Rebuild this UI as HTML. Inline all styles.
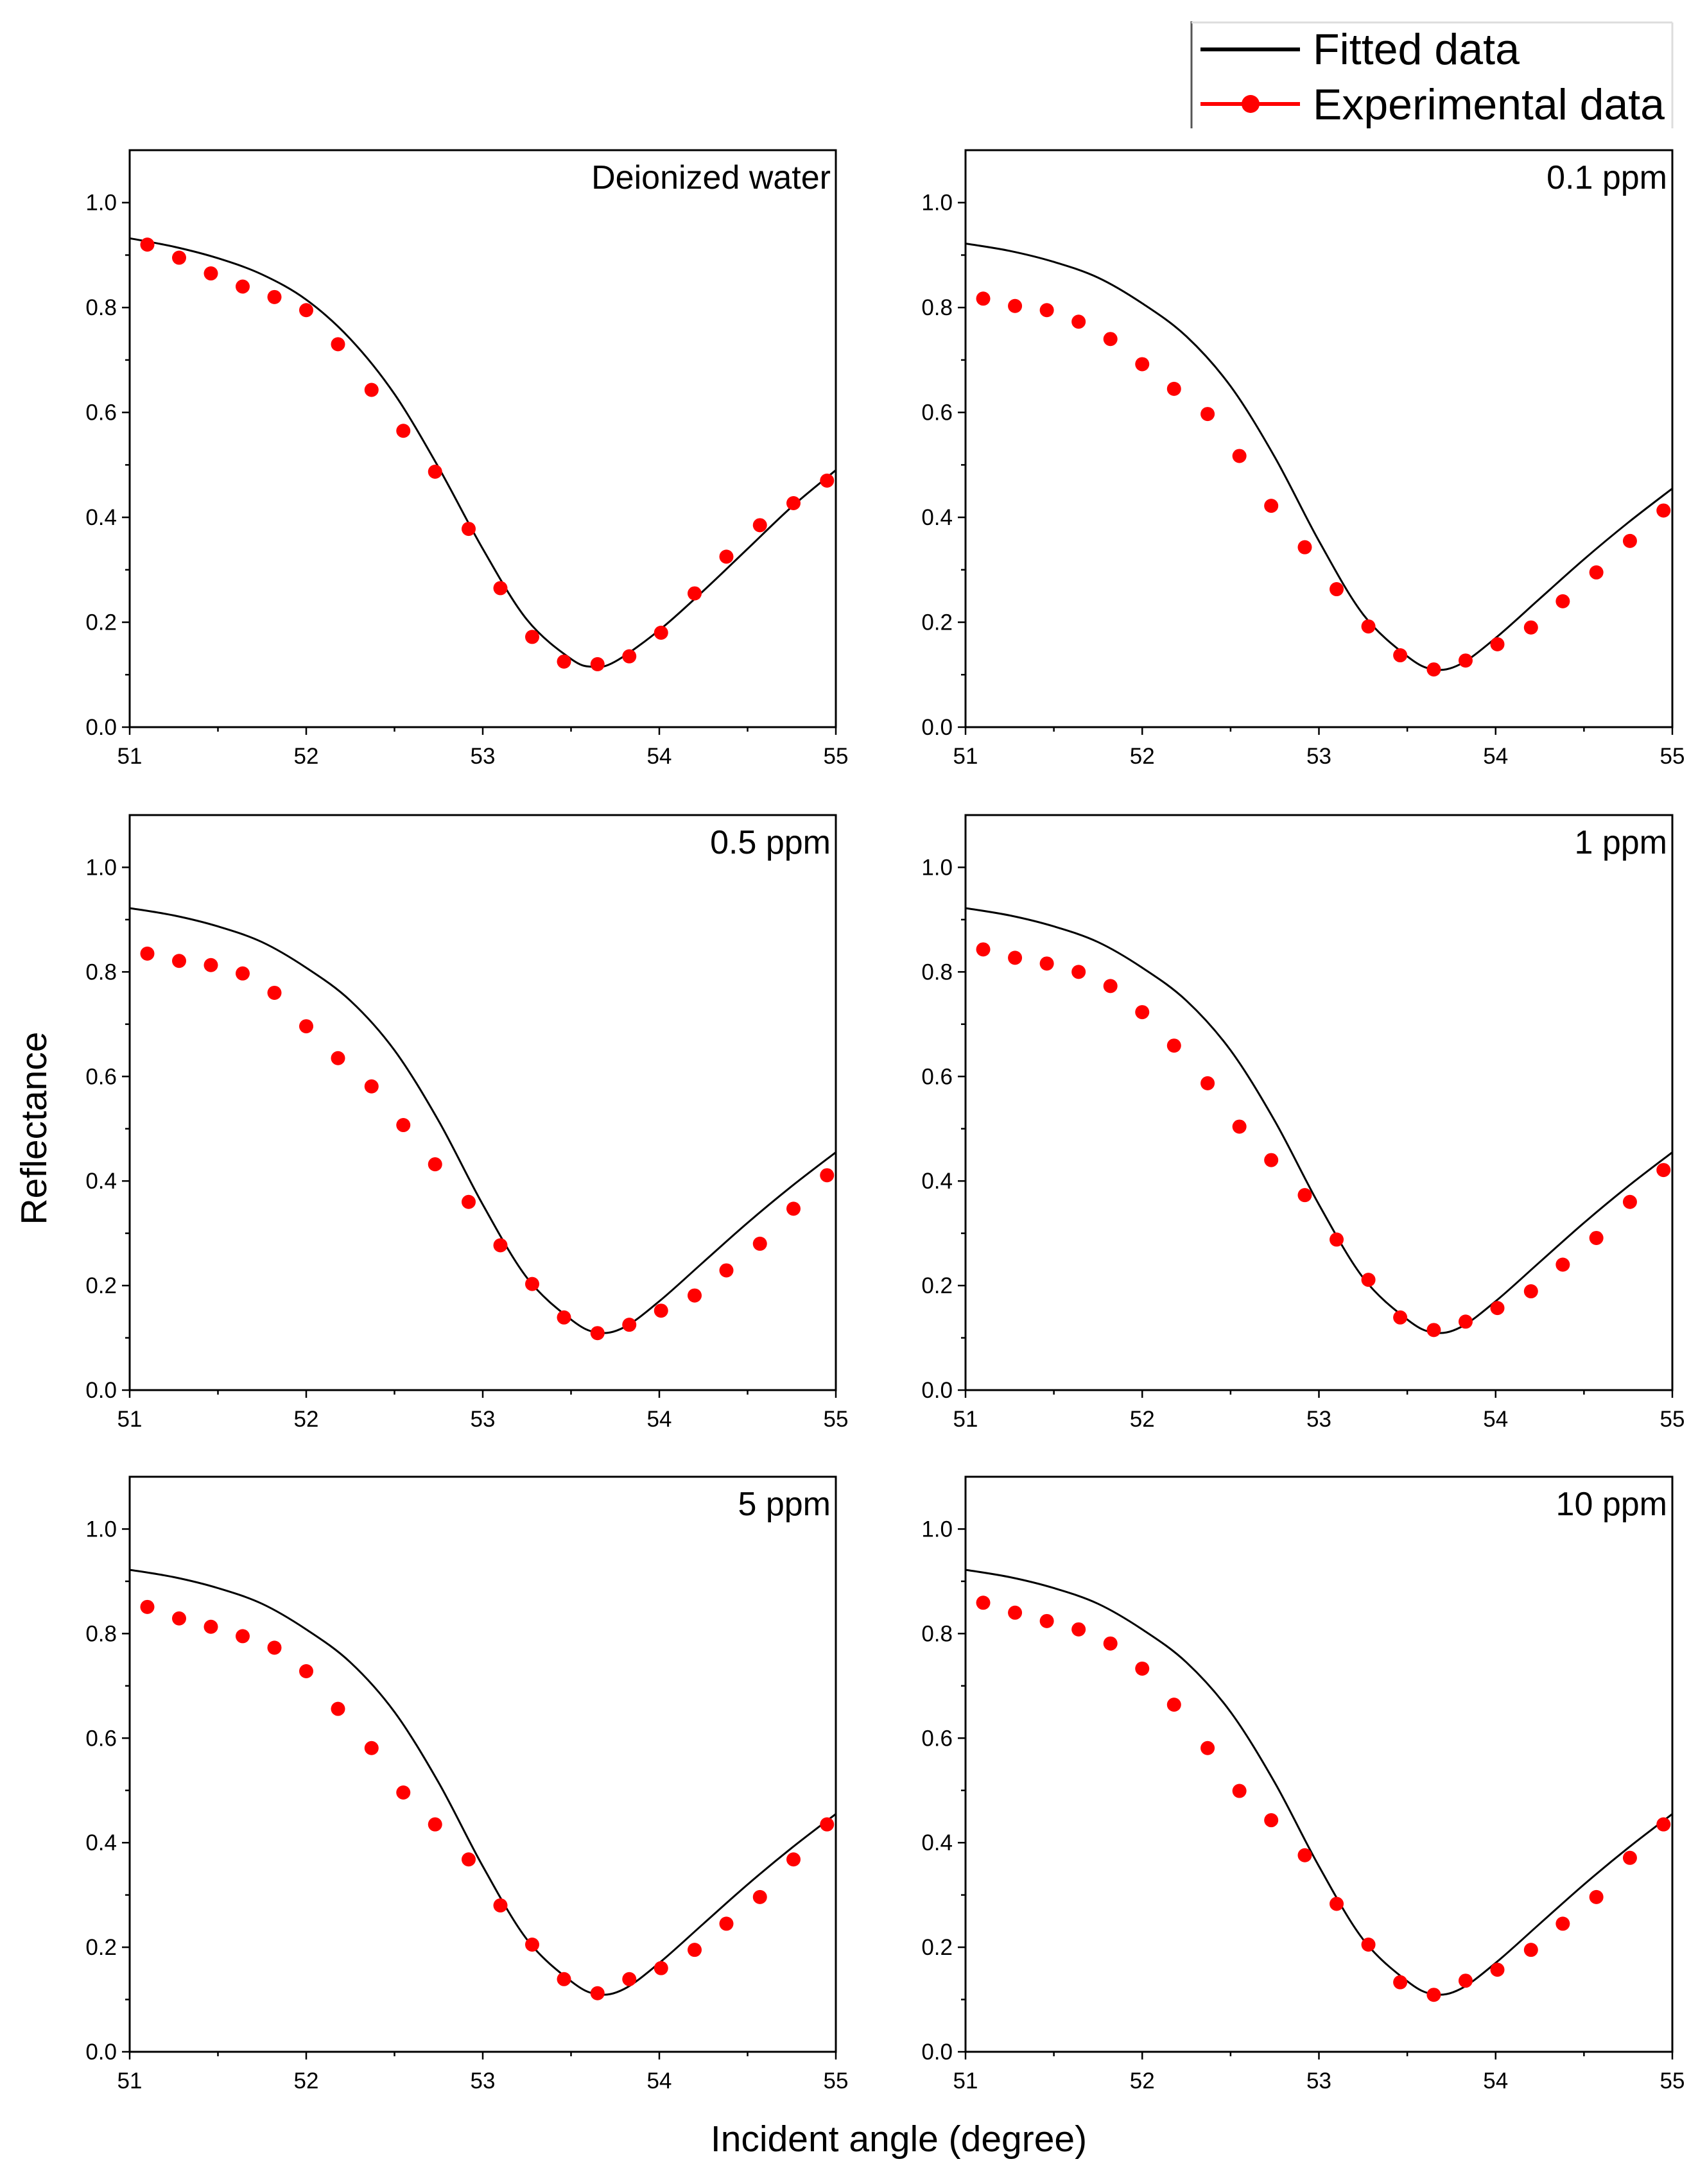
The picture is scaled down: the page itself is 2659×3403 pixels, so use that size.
<!DOCTYPE html>
<html><head><meta charset="utf-8"><style>
html,body{margin:0;padding:0;background:#fff}
svg{display:block;font-family:"Liberation Sans",Arial,sans-serif}
</style></head><body>
<svg id="chart" width="2659" height="3403" viewBox="0 0 2659 3403" xmlns="http://www.w3.org/2000/svg">
<g>
<line x1="1856" y1="33" x2="1856" y2="200" stroke="#555" stroke-width="3"/>
<line x1="1856" y1="35" x2="2605" y2="35" stroke="#ddd" stroke-width="3"/>
<line x1="2605" y1="35" x2="2605" y2="200" stroke="#ddd" stroke-width="3"/>
<line x1="1870" y1="77" x2="2025" y2="77" stroke="#000" stroke-width="6"/>
<text x="2045" y="100" font-size="68" textLength="322" lengthAdjust="spacingAndGlyphs">Fitted data</text>
<line x1="1870" y1="162" x2="2025" y2="162" stroke="#f00" stroke-width="6"/>
<circle cx="1948" cy="162" r="14" fill="#f00"/>
<text x="2045" y="186" font-size="68" textLength="548" lengthAdjust="spacingAndGlyphs">Experimental data</text>
</g>
<text transform="translate(72,1758) rotate(-90)" text-anchor="middle" font-size="57">Reflectance</text>
<text x="1400" y="3352" text-anchor="middle" font-size="57">Incident angle (degree)</text>
</svg>
<script>
const panelLabels = ["Deionized water","0.1 ppm","0.5 ppm","1 ppm","5 ppm","10 ppm"];
const expX = [51.1,51.28,51.46,51.64,51.82,52.0,52.18,52.37,52.55,52.73,52.92,53.1,53.28,53.46,53.65,53.83,54.01,54.2,54.38,54.57,54.76,54.95];
const exp0 = [0.92,0.895,0.865,0.84,0.82,0.795,0.73,0.643,0.565,0.487,0.378,0.265,0.172,0.125,0.12,0.135,0.18,0.255,0.325,0.385,0.427,0.47];
const exp1 = [0.817,0.803,0.795,0.773,0.74,0.692,0.645,0.597,0.517,0.422,0.343,0.263,0.192,0.137,0.11,0.127,0.158,0.19,0.24,0.295,0.355,0.413];
const exp2 = [0.835,0.821,0.813,0.797,0.76,0.696,0.635,0.581,0.507,0.432,0.36,0.277,0.203,0.139,0.109,0.125,0.152,0.181,0.229,0.28,0.347,0.411];
const exp3 = [0.843,0.827,0.816,0.8,0.773,0.723,0.659,0.587,0.504,0.44,0.373,0.288,0.211,0.139,0.115,0.131,0.157,0.189,0.24,0.291,0.36,0.421];
const exp4 = [0.851,0.829,0.813,0.795,0.773,0.728,0.656,0.581,0.496,0.435,0.368,0.28,0.205,0.139,0.112,0.139,0.16,0.195,0.245,0.296,0.368,0.435];
const exp5 = [0.859,0.84,0.824,0.808,0.781,0.733,0.664,0.581,0.499,0.443,0.376,0.283,0.205,0.133,0.109,0.136,0.157,0.195,0.245,0.296,0.371,0.435];
const fitX0 = [51,51.25,51.5,51.75,52,52.25,52.5,52.75,53,53.25,53.5,53.625,53.75,54,54.25,54.5,54.75,55];
const fitY0 = [0.932,0.916,0.894,0.863,0.815,0.74,0.635,0.495,0.34,0.205,0.13,0.115,0.125,0.185,0.26,0.34,0.42,0.49];
const fitX = [51,51.25,51.5,51.75,52,52.25,52.5,52.75,53,53.25,53.5,53.65,53.8,54,54.25,54.5,54.75,55];
const fitY = [0.922,0.908,0.887,0.857,0.808,0.745,0.65,0.515,0.355,0.215,0.135,0.11,0.12,0.17,0.245,0.32,0.39,0.455];
const yTicks = ["0.0","0.2","0.4","0.6","0.8","1.0"];
const xTicks = ["51","52","53","54","55"];

const expSets=[exp0,exp1,exp2,exp3,exp4,exp5];
const NS="http://www.w3.org/2000/svg";
const svg=document.getElementById('chart');
const cols=[[202,1302],[1504,2605]];
const rows=[[234,1133],[1270,2166],[2301,3197]];
function mk(tag,attrs,parent){const e=document.createElementNS(NS,tag);for(const k in attrs)e.setAttribute(k,attrs[k]);parent.appendChild(e);return e;}
for(let p=0;p<6;p++){
  const [x0,x1]=cols[p%2],[top,y0]=rows[Math.floor(p/2)];
  const sx=v=>x0+(v-51)/4*(x1-x0);
  const sy=v=>y0-v/1.1*(y0-top);
  const g=mk('g',{},svg);
  
  
  const frame=mk('rect',{x:x0,y:top,width:x1-x0,height:y0-top,fill:'none',stroke:'#000','stroke-width':3},g);
  
  
  for(let i=0;i<=10;i++){const v=i/10;const maj=i%2==0;
    mk('line',{x1:x0-(maj?12:7),x2:x0,y1:sy(v),y2:sy(v),stroke:'#000','stroke-width':2.5},g);
    if(maj){const t=mk('text',{x:x0-20,y:sy(v)+12,'text-anchor':'end','font-size':35},g);t.textContent=yTicks[i/2];
      
      }}
  for(let i=0;i<=8;i++){const v=51+i/2;const maj=i%2==0;
    mk('line',{x1:sx(v),x2:sx(v),y1:y0,y2:y0+(maj?12:7),stroke:'#000','stroke-width':2.5},g);
    if(maj){const t=mk('text',{x:sx(v),y:y0+57,'text-anchor':'middle','font-size':35},g);t.textContent=xTicks[i/2];
      
      }}
  const fx=p==0?fitX0:fitX, fy=p==0?fitY0:fitY;
  const pts=fx.map((x,i)=>[sx(x),sy(fy[i])]);
  let d='M'+pts[0][0]+','+pts[0][1];
  for(let i=0;i<pts.length-1;i++){const a=pts[Math.max(0,i-1)],b=pts[i],c=pts[i+1],e=pts[Math.min(pts.length-1,i+2)];
    d+=' C'+(b[0]+(c[0]-a[0])/6)+','+(b[1]+(c[1]-a[1])/6)+' '+(c[0]-(e[0]-b[0])/6)+','+(c[1]-(e[1]-b[1])/6)+' '+c[0]+','+c[1];}
  const path=mk('path',{d:d,fill:'none',stroke:'#000','stroke-width':3},g);
  
  
  expSets[p].forEach((v,i)=>{const c=mk('circle',{cx:sx(expX[i]),cy:sy(v),r:11,fill:'#f00'},g);
    
    });
  const lab=mk('text',{x:x1-8,y:top+60,'text-anchor':'end','font-size':52},g);lab.textContent=panelLabels[p];
  
  
}
</script>
</body></html>
